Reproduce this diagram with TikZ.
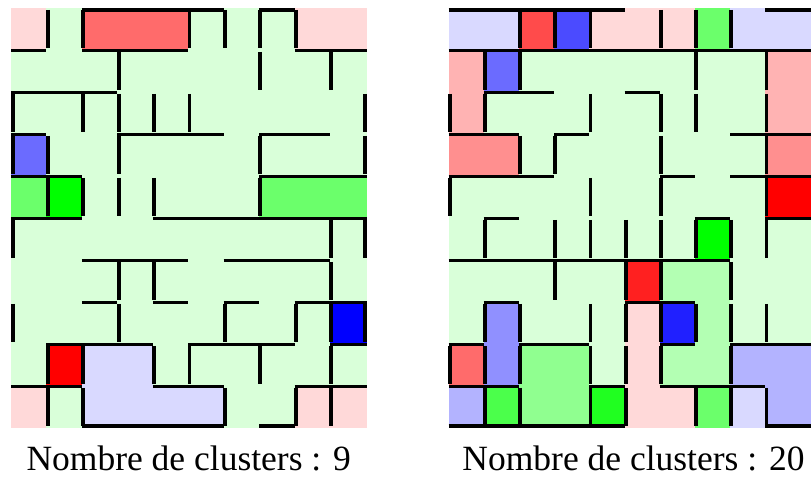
\documentclass[tikz,border=0pt]{standalone}
\usepackage{fontspec}
\setmainfont{Liberation Serif}
\definecolor{lgA}{HTML}{D9FFD9}
\definecolor{lgB}{HTML}{B3FFB3}
\definecolor{pinkA}{HTML}{FFD9D9}
\definecolor{pinkB}{HTML}{FFB3B3}
\definecolor{salm}{HTML}{FF8F8F}
\definecolor{redA}{HTML}{FF6B6B}
\definecolor{redB}{HTML}{FF0000}
\definecolor{redC}{HTML}{FF4B4B}
\definecolor{redD}{HTML}{FF2020}
\definecolor{blueA}{HTML}{6B6BFF}
\definecolor{blueB}{HTML}{0000FF}
\definecolor{blueC}{HTML}{4B4BFF}
\definecolor{blueD}{HTML}{2020FF}
\definecolor{purpA}{HTML}{D9D9FF}
\definecolor{purpB}{HTML}{9090FF}
\definecolor{purpC}{HTML}{B3B3FF}
\definecolor{greenA}{HTML}{6BFF6B}
\definecolor{greenB}{HTML}{00FF00}
\definecolor{greenC}{HTML}{90FF90}
\definecolor{greenD}{HTML}{4BFF4B}
\definecolor{greenE}{HTML}{20FF20}
\tikzset{wall/.style={line width=3.9pt,black},
  caption/.style={font=\fontsize{35.5}{40}\selectfont,anchor=base,inner sep=0pt}}
\newcommand\mzcell[3]{%
  \pgfmathsetmacro\mxa{\mzX+#1*\mzW}%
  \pgfmathsetmacro\mxb{ifthenelse(#1==9,\mzE,\mzX+(#1+1)*\mzW)}%
  \pgfmathsetmacro\mya{\mzY+#2*\mzH}%
  \pgfmathsetmacro\myb{\mzY+(#2+1)*\mzH}%
  \fill[#3] (\mxa,\mya) rectangle (\mxb,\myb);}
\newcommand\mzhw[2]{%
  \pgfmathsetmacro\mxa{\mzX+#1*\mzW}%
  \pgfmathsetmacro\mxb{ifthenelse(#1==9,\mzE,\mzX+(#1+1)*\mzW)}%
  \pgfmathsetmacro\myy{ifthenelse(#2==0,\mzY+1.9,ifthenelse(#2==10,\mzY+10*\mzH-1.9,\mzY+#2*\mzH+0.5))}%
  \draw[wall] (\mxa,\myy) -- (\mxb,\myy);}
\newcommand\mzvw[2]{%
  \pgfmathsetmacro\mxx{ifthenelse(#1==0,\mzX+1.9,ifthenelse(#1==10,\mzE-1.9,\mzX+#1*\mzW+1.2))}%
  \pgfmathsetmacro\mya{\mzY+#2*\mzH+1.8}%
  \pgfmathsetmacro\myb{\mzY+(#2+1)*\mzH-1.8}%
  \draw[wall] (\mxx,\mya) -- (\mxx,\myb);}
\begin{document}
\begin{tikzpicture}[x=1pt,y=-1pt]
\useasboundingbox (0,0) rectangle (811,477);
\fill[white] (0,0) rectangle (811,477);
% ---------- left maze ----------
\def\mzX{11}\def\mzW{35.45}\def\mzE{366.5}\def\mzY{8}\def\mzH{42}
\fill[lgA] (\mzX,\mzY) rectangle (\mzE,428);
\foreach \c/\r/\col in {0/0/pinkA,8/0/pinkA,9/0/pinkA,0/9/pinkA,8/9/pinkA,9/9/pinkA,
  2/0/redA,3/0/redA,4/0/redA,0/3/blueA,0/4/greenA,7/4/greenA,8/4/greenA,9/4/greenA,
  1/4/greenB,1/8/redB,9/7/blueB,2/8/purpA,3/8/purpA,2/9/purpA,3/9/purpA,4/9/purpA,5/9/purpA}
  {\mzcell{\c}{\r}{\col}}
\foreach \k/\cs in {0/{2,3,4,5,7},1/{0,2,3,4,8,9},2/{0,1,2},3/{0,3,4,5,7,8},4/{0,1,7,8,9},
  5/{0,1,4,5,6,7,8,9},6/{2,3,4,6,7,8},7/{2,4,6,8,9},8/{1,2,3,5,6,7,9},9/{0,1,4,5,8,9},10/{2,3,4,5,7}}
  {\foreach \c in \cs {\mzhw{\c}{\k}}}
\foreach \r/\ks in {0/{1,2,5,6,7,8},1/{3,7,9},2/{0,2,3,4,5,10},3/{0,1,3,7,10},4/{1,2,3,4,7},
  5/{0,9,10},6/{3,4,9},7/{0,3,6,8,9,10},8/{1,2,4,5,7,9},9/{1,2,6,8,9}}
  {\foreach \k in \ks {\mzvw{\k}{\r}}}
% ---------- right maze ----------
\def\mzX{448.5}\def\mzW{35.2}\def\mzE{811}\def\mzY{8}\def\mzH{42}
\fill[lgA] (\mzX,\mzY) rectangle (\mzE,428);
\foreach \c/\r/\col in {0/0/purpA,1/0/purpA,2/0/redC,3/0/blueC,4/0/pinkA,5/0/pinkA,6/0/pinkA,7/0/greenA,8/0/purpA,9/0/purpA,
  0/1/pinkB,1/1/blueA,9/1/pinkB,0/2/pinkB,9/2/pinkB,0/3/salm,1/3/salm,9/3/salm,9/4/redB,7/5/greenB,
  5/6/redD,6/6/lgB,7/6/lgB,1/7/purpB,5/7/pinkA,6/7/blueD,7/7/lgB,
  0/8/redA,1/8/purpB,2/8/greenC,3/8/greenC,5/8/pinkA,6/8/lgB,7/8/lgB,8/8/purpC,9/8/purpC,
  0/9/purpC,1/9/greenD,2/9/greenC,3/9/greenC,4/9/greenE,5/9/pinkA,6/9/pinkA,7/9/greenA,8/9/purpA,9/9/purpC}
  {\mzcell{\c}{\r}{\col}}
\foreach \k/\cs in {0/{0,1,2,3,4,9},1/{0,1,2,3,4,5,6,7,8,9},2/{1,2,5},3/{0,1,3,8,9},4/{0,1,2,6,8,9},
  5/{1,7,9},6/{0,1,2,3,4,5,6,7},7/{1,5,6},8/{0,2,3,6,8,9},9/{0,1,4,6,7,8},10/{0,1,2,3,4,9}}
  {\foreach \c in \cs {\mzhw{\c}{\k}}}
\foreach \r/\ks in {0/{2,3,4,6,7,8},1/{1,2,7,9},2/{0,1,4,6,7,9},3/{2,3,6,9},4/{0,4,6,9},
  5/{1,3,4,5,6,7,8,9},6/{3,5,6,8},7/{1,2,4,5,6,7,8,9},8/{0,1,2,4,5,6,8},9/{1,2,4,5,7,8,9}}
  {\foreach \k in \ks {\mzvw{\k}{\r}}}
% ---------- captions ----------
\node[caption] (capL) at (188.7,470) {Nombre de clusters : 9};
\node[caption] (capR) at (633.5,470) {Nombre de clusters : 20};
\end{tikzpicture}
\end{document}
